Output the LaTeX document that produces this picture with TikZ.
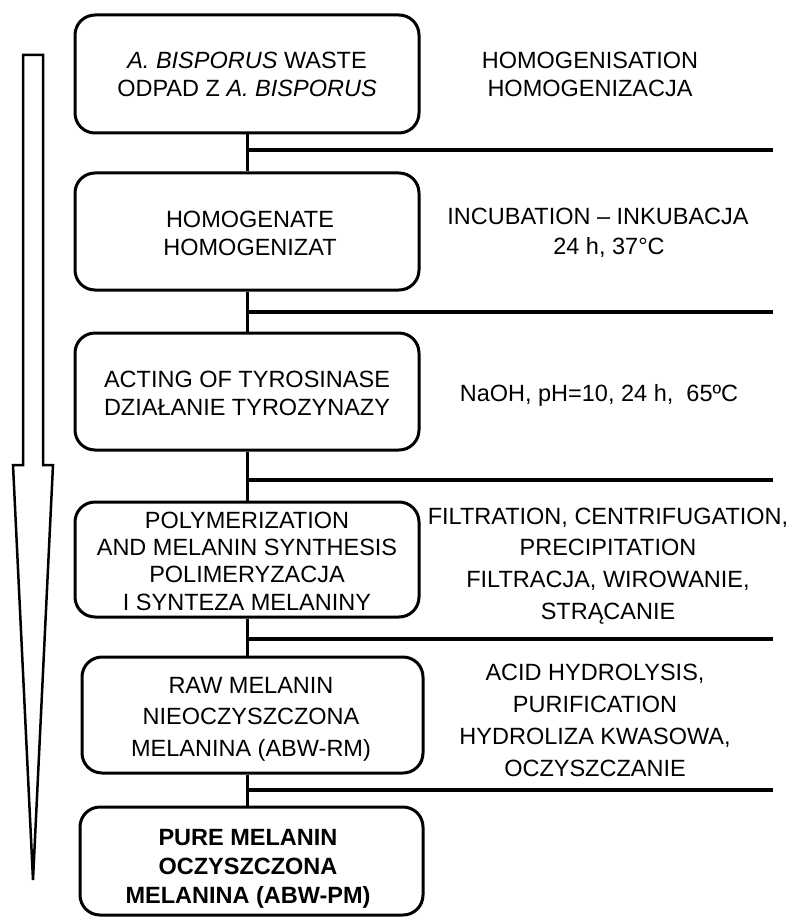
\documentclass[tikz,border=0pt]{standalone}
\usepackage{fontspec}
\setmainfont{Liberation Sans}
\begin{document}
\begin{tikzpicture}[x=1pt,y=-1pt,
  box/.style={draw,line width=3pt,rounded corners=20pt,inner sep=0pt},
  lbl/.style={align=center,inner sep=0pt,font=\fontsize{23.5}{28}\selectfont},
  side/.style={align=center,inner sep=0pt,font=\fontsize{23.5}{31.5}\selectfont},
  link/.style={line width=3pt},
  rule/.style={line width=3.5pt}]
\useasboundingbox (0,0) rectangle (803,920);
% boxes
\node[box,minimum width=344pt,minimum height=118pt] (b1) at (247,74) {};
\node[box,minimum width=344pt,minimum height=117pt] (b2) at (247,231.5) {};
\node[box,minimum width=344pt,minimum height=117pt] (b3) at (247,391.5) {};
\node[box,minimum width=344pt,minimum height=115pt] (b4) at (247,559.5) {};
\node[box,minimum width=341pt,minimum height=116pt] (b5) at (252.5,715) {};
\node[box,minimum width=343pt,minimum height=108pt] (b6) at (251.5,861) {};
% box texts
\node[lbl] (l1) at (247,74) {\textit{A. BISPORUS} WASTE\\ODPAD Z \textit{A. BISPORUS}};
\node[lbl] (l2) at (250,233.5) {HOMOGENATE\\HOMOGENIZAT};
\node[lbl] (l3) at (247,393.5) {ACTING OF TYROSINASE\\DZIAŁANIE TYROZYNAZY};
\node[lbl,font=\fontsize{23.5}{27.3}\selectfont] (l4) at (247,561) {POLYMERIZATION\\AND MELANIN SYNTHESIS\\POLIMERYZACJA\\I SYNTEZA MELANINY};
\node[lbl,font=\fontsize{23.5}{31.5}\selectfont] (l5) at (251,719) {RAW MELANIN\\NIEOCZYSZCZONA\\MELANINA (ABW-RM)};
\node[lbl,font=\fontsize{23.5}{29}\selectfont\bfseries] (l6) at (248,869) {PURE MELANIN\\OCZYSZCZONA\\MELANINA (ABW-PM)};
% vertical connectors
\draw[link] (b1.south) -- (b2.north);
\draw[link] (b2.south) -- (b3.north);
\draw[link] (b3.south) -- (b4.north);
\draw[link] (b4.south) -- (b4.south |- b5.north);
\draw[link] (b5.south -| b4.south) -- (b6.north -| b4.south);
% horizontal rules
\coordinate (r1) at (773,150);
\coordinate (r2) at (773,312);
\coordinate (r3) at (773,480);
\coordinate (r4) at (773,639);
\coordinate (r5) at (773,790);
\draw[rule] (b1.south |- r1) -- (r1);
\draw[rule] (b1.south |- r2) -- (r2);
\draw[rule] (b1.south |- r3) -- (r3);
\draw[rule] (b1.south |- r4) -- (r4);
\draw[rule] (b1.south |- r5) -- (r5);
% side texts
\node[side,font=\fontsize{23.5}{28}\selectfont] (s1) at (590,74) {HOMOGENISATION\\HOMOGENIZACJA};
\node[side,font=\fontsize{23.5}{30}\selectfont] (s2) at (598,233) {INCUBATION – INKUBACJA\\\hspace*{22pt}24 h, 37°C};
\node[side] (s3) at (599,395) {NaOH, pH=10, 24 h,\ \ 65ºC};
\node[side,font=\fontsize{23.5}{31.7}\selectfont] (s4) at (608,566) {FILTRATION, CENTRIFUGATION,\\PRECIPITATION\\FILTRACJA, WIROWANIE,\\STRĄCANIE};
\node[side,font=\fontsize{23.5}{32}\selectfont] (s5) at (595,720) {ACID HYDROLYSIS,\\PURIFICATION\\HYDROLIZA KWASOWA,\\OCZYSZCZANIE};
% left arrow
\draw[line width=2.5pt,line join=miter] (23,55) -- (43,55) -- (43,465) -- (53,465) -- (33,880) -- (13,465) -- (23,465) -- cycle;
\end{tikzpicture}
\end{document}
